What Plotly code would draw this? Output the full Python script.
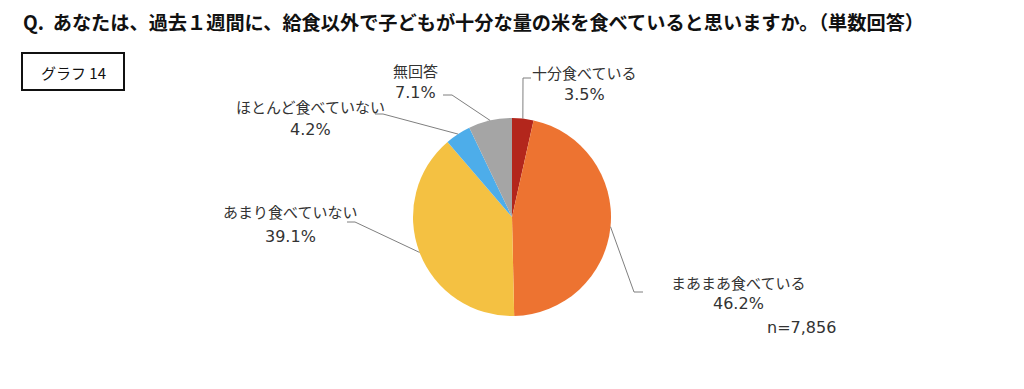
import math
import plotly.graph_objects as go

categories = ["十分食べている", "まあまあ食べている", "あまり食べていない", "ほとんど食べていない", "無回答"]
values = [3.5, 46.2, 39.1, 4.2, 7.1]
colors = ["#B3261C", "#ED7331", "#F4C142", "#4DADEA", "#A5A5A5"]
title_text = "Q.  あなたは、過去１週間に、給食以外で子どもが十分な量の米を食べていると思いますか。（単数回答）"
graph_label = "グラフ 14"
n_text = "n=7,856"

W, H = 1024, 389
CX, CY, R = 512, 217, 99

FONT = "Noto Sans CJK JP"
NUMFONT = "DejaVu Sans, Noto Sans CJK JP"
TXT = "#333333"

def px(x):
    return x / W

def py(y):
    return 1 - y / H

fig = go.Figure(go.Pie(
    labels=categories, values=values, sort=False, direction="clockwise", rotation=0,
    marker=dict(colors=colors, line=dict(width=0)), textinfo="none", hoverinfo="label+percent",
    domain=dict(x=[px(CX - R), px(CX + R)], y=[py(CY + R), py(CY - R)]),
    showlegend=False,
))

layout_info = [
    dict(tx=584, ny=73, vy=95, elbow=[(523, 78), (531, 78)]),
    dict(tx=738, ny=282, vy=303, elbow=[(634, 292), (643, 292)]),
    dict(tx=290, ny=212, vy=236, elbow=[(355, 222), (347, 222)]),
    dict(tx=310, ny=107, vy=129, elbow=[(383, 114), (375, 114)]),
    dict(tx=415, ny=70, vy=92, elbow=[(452, 95), (443, 95)]),
]

total = sum(values)
cum = 0
shapes = []
annotations = []
for cat, v, info in zip(categories, values, layout_info):
    mid = (cum + v / 2) / total * 2 * math.pi
    cum += v
    sx = CX + R * math.sin(mid)
    sy = CY - R * math.cos(mid)
    pts = [(sx, sy)] + info["elbow"]
    path = "M " + " L ".join(f"{px(x)},{py(y)}" for x, y in pts)
    shapes.append(dict(type="path", path=path, xref="paper", yref="paper",
                       line=dict(color="#7F7F7F", width=1)))
    annotations.append(dict(text=cat, x=px(info["tx"]), y=py(info["ny"]), xref="paper", yref="paper",
                            showarrow=False, font=dict(family=FONT, size=15, color=TXT),
                            xanchor="center", yanchor="middle"))
    annotations.append(dict(text=f"{v:.1f}%", x=px(info["tx"]), y=py(info["vy"]), xref="paper", yref="paper",
                            showarrow=False, font=dict(family=NUMFONT, size=16, color=TXT),
                            xanchor="center", yanchor="middle"))

annotations.append(dict(text=n_text, x=px(765), y=py(327), xref="paper", yref="paper", showarrow=False,
                        font=dict(family=NUMFONT, size=16, color=TXT), xanchor="left", yanchor="middle"))
annotations.append(dict(text="<b>" + title_text + "</b>", x=px(21), y=py(22), xref="paper", yref="paper",
                        showarrow=False, font=dict(family=FONT, size=19.2, color="#111111"),
                        xanchor="left", yanchor="middle"))
annotations.append(dict(text=graph_label, x=px(73), y=py(72), xref="paper", yref="paper", showarrow=False,
                        font=dict(family=FONT, size=15, color="#111111"), xanchor="center", yanchor="middle"))
shapes.append(dict(type="rect", xref="paper", yref="paper", x0=px(22), x1=px(124), y0=py(53), y1=py(90),
                   line=dict(color="#111111", width=2), fillcolor="rgba(0,0,0,0)"))

fig.update_layout(width=W, height=H, margin=dict(l=0, r=0, t=0, b=0),
                  paper_bgcolor="white", plot_bgcolor="white",
                  shapes=shapes, annotations=annotations)
fig.write_html("out.html", config=dict(displayModeBar=False),
               post_script="document.body.style.margin='0px';document.body.style.padding='0px';")
